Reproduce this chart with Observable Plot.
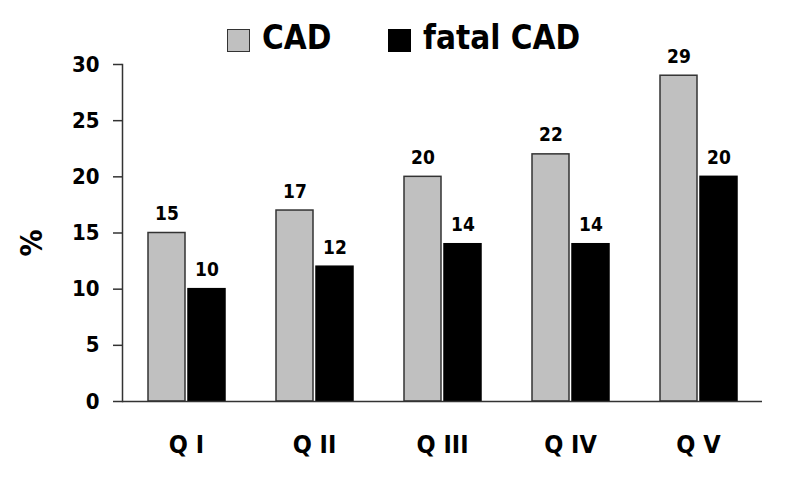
<!DOCTYPE html>
<html>
<head>
<meta charset="utf-8">
<script src="https://cdn.jsdelivr.net/npm/d3@7"></script>
<script src="https://cdn.jsdelivr.net/npm/@observablehq/plot@0.6"></script>
<style>
  body { margin: 0; background: #fff; }
  #wrap { position: relative; width: 785px; height: 499px; font-family: "DejaVu Sans", sans-serif; font-stretch: condensed; font-weight: bold; }
  #legend { position: absolute; left: 0; top: 0; width: 785px; height: 56px; }
  .sw { position: absolute; top: 29px; width: 21px; height: 21px; border: 1.5px solid #333; }
  .lt { position: absolute; top: 19px; font-size: 33px; line-height: 38px; color: #000; }
  #chart { position: absolute; left: 0; top: 56px; }
  #chart svg text { font-stretch: condensed; }
  #ylab { position: absolute; left: 2px; top: 223px; width: 60px; height: 40px; line-height: 40px; text-align: center; font-size: 30px; transform: rotate(-90deg); color: #000; z-index: 2; }
</style>
</head>
<body>
<div id="wrap">
  <div id="legend"></div>
  <div id="chart"></div>
  <div id="ylab"></div>
</div>
<script>
const quintiles = ["Q I", "Q II", "Q III", "Q IV", "Q V"];
const series = ["CAD", "fatal CAD"];
const cadValues = [15, 17, 20, 22, 29];
const fatalValues = [10, 12, 14, 14, 20];
const yTicks = [0, 5, 10, 15, 20, 25, 30];
const yLabel = "%";
const colors = ["#c0c0c0", "#000000"];

const data = [];
quintiles.forEach((q, i) => {
  data.push({q, s: series[0], v: cadValues[i]});
  data.push({q, s: series[1], v: fatalValues[i]});
});

document.getElementById("ylab").textContent = yLabel;

// legend
const legend = document.getElementById("legend");
const legendPos = [{sw: 227, t: 262}, {sw: 388, t: 423}];
series.forEach((s, i) => {
  const sw = document.createElement("div");
  sw.className = "sw";
  sw.style.left = legendPos[i].sw + "px";
  sw.style.background = colors[i];
  sw.style.borderColor = i === 0 ? "#333" : "#000";
  legend.appendChild(sw);
  const t = document.createElement("div");
  t.className = "lt";
  t.style.left = legendPos[i].t + "px";
  t.textContent = s;
  legend.appendChild(t);
});

const font = '"DejaVu Sans", sans-serif';

const plot = Plot.plot({
  width: 785,
  height: 443,
  marginLeft: 122,
  marginRight: 23,
  marginTop: 8,
  marginBottom: 98,
  style: {fontFamily: font, fontWeight: "bold", fontStretch: "condensed", color: "#000", background: "#fff", overflow: "visible"},
  fx: {domain: quintiles, padding: 0, label: null},
  x: {domain: series, paddingInner: 0.075, paddingOuter: 0.6, axis: null},
  y: {domain: [0, 30], label: null},
  color: {domain: series, range: colors},
  marks: [
    Plot.barY(data, {fx: "q", x: "s", y: "v", fill: "s", stroke: d => d.s === series[0] ? "#333" : "#000", strokeWidth: 1.5}),
    Plot.text(data, {fx: "q", x: "s", y: "v", text: d => String(d.v), dy: -19, fontSize: 19, fontWeight: "bold", fill: "#000"}),
    Plot.axisFx({anchor: "bottom", tickSize: 0, tickPadding: 34, fontSize: 25, fontWeight: "bold", label: null}),
    Plot.axisY({ticks: yTicks, tickSize: 9, tickPadding: 14, fontSize: 22, fontWeight: "bold", stroke: "#333", strokeWidth: 1.5, label: null}),
    Plot.frame({anchor: "left", facetAnchor: "left", stroke: "#333", strokeWidth: 1.5}),
    Plot.ruleY([0], {stroke: "#333", strokeWidth: 1.5}),
  ]
});

document.getElementById("chart").appendChild(plot);
</script>
</body>
</html>
